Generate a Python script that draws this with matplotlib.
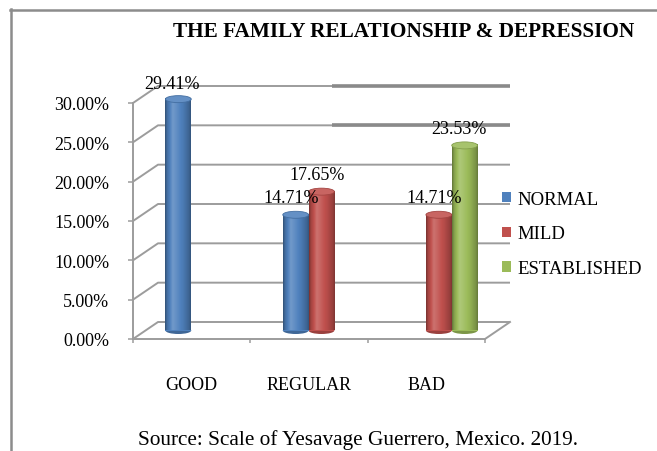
import numpy as np
import matplotlib
matplotlib.use('Agg')
import matplotlib.pyplot as plt
from matplotlib.patches import Ellipse, Patch
from matplotlib.lines import Line2D
from matplotlib.colors import to_rgb

# ---------------- data ----------------
categories = ['GOOD', 'REGULAR', 'BAD']
series_names = ['NORMAL', 'MILD', 'ESTABLISHED']
normal = [29.41, 14.71, 0.0]
mild = [0.0, 17.65, 14.71]
established = [0.0, 0.0, 23.53]
y_ticks = [0, 5, 10, 15, 20, 25, 30]
title = 'THE FAMILY RELATIONSHIP & DEPRESSION'
source = 'Source: Scale of Yesavage Guerrero, Mexico. 2019.'

# ---------------- style ----------------
plt.rcParams['font.family'] = ['Liberation Serif', 'DejaVu Serif']
colors = ['#4F81BD', '#C0504D', '#9BBB59']
grid_c = '#9c9c9c'
FS = 13

W, H = 657, 452
fig = plt.figure(figsize=(W / 100, H / 100), dpi=100)
ax_l, ax_r, ax_t, ax_b = 133, 485, 104, 340
ax = fig.add_axes([ax_l / W, 1 - ax_b / H, (ax_r - ax_l) / W, (ax_b - ax_t) / H])
XMIN, XMAX, YMIN, YMAX = -0.5, 2.5, 0, 30
ax.set_xlim(XMIN, XMAX)
ax.set_ylim(YMIN, YMAX)

# depth of the 3D box in pixels -> data units
DXp, DYp = 25, 17
DX = DXp * (XMAX - XMIN) / (ax_r - ax_l)
DY = DYp * (YMAX - YMIN) / (ax_b - ax_t)
ELL = 7 * (YMAX - YMIN) / (ax_b - ax_t)

# back wall gridlines + slanted connectors
for v in y_ticks:
    ax.plot([XMIN, XMIN + DX, XMAX + DX], [v, v + DY, v + DY], color=grid_c,
            lw=1.4, clip_on=False, zorder=1, solid_capstyle='butt')
# darker segments visible on the top two back lines
for v in y_ticks[-2:]:
    ax.plot([1.2, XMAX + DX], [v + DY, v + DY], color='#8a8a8a', lw=2.6,
            clip_on=False, zorder=1, solid_capstyle='butt')
# floor right edge
ax.plot([XMAX, XMAX + DX], [0, DY], color=grid_c, lw=1.4, clip_on=False, zorder=1)

# cylinder shading
knots_t = [0, 0.08, 0.3, 0.45, 0.7, 0.92, 1.0]
knots_f = [0.62, 0.85, 1.15, 1.08, 0.95, 0.78, 0.65]
tt = np.linspace(0, 1, 128)
ff = np.interp(tt, knots_t, knots_f)


def gradient(col):
    base = np.array(to_rgb(col))
    rows = []
    for f in ff:
        if f > 1:
            c = base + (1 - base) * (f - 1) * 1.3
        else:
            c = base * f
        rows.append(np.clip(c, 0, 1))
    return np.array(rows)[None, :, :]


BW = 0.22
offsets = [-0.22, 0.0, 0.22]
label_offsets = {
    (0, 0): (-6, 16),
    (0, 1): (-28, 12),
    (1, 1): (-4, 17),
    (1, 2): (-5, 18),
    (2, 2): (-6, 17),
}
all_series = [normal, mild, established]
for s, (vals, col) in enumerate(zip(all_series, colors)):
    grad = gradient(col)
    base = np.array(to_rgb(col))
    for i, v in enumerate(vals):
        if v <= 0:
            continue
        xc = i + offsets[s] + DX / 2
        b = DY / 2
        ax.add_patch(Ellipse((xc, b), BW, ELL, facecolor=base * 0.8,
                             edgecolor='none', zorder=2, clip_on=False))
        ax.bar(xc, v, width=BW, bottom=b, color=col, zorder=2.5, clip_on=False)
        ax.imshow(grad, extent=[xc - BW / 2, xc + BW / 2, b, b + v],
                  aspect='auto', zorder=3, interpolation='bilinear',
                  clip_on=False)
        top = base + (1 - base) * 0.12
        ax.add_patch(Ellipse((xc, b + v), BW, ELL, facecolor=top,
                             edgecolor=base * 0.85, lw=0.6, zorder=4,
                             clip_on=False))
        ox, oy = label_offsets.get((i, s), (-5, 17))
        ax.annotate(f'{v:.2f}%', xy=(xc, b + v), xytext=(ox, oy),
                    textcoords='offset pixels', ha='center', va='center',
                    fontsize=FS, zorder=5, annotation_clip=False)

ax.set_xlim(XMIN, XMAX)
ax.set_ylim(YMIN, YMAX)

# axes styling
for sp in ['top', 'right']:
    ax.spines[sp].set_visible(False)
for sp in ['left', 'bottom']:
    ax.spines[sp].set_color(grid_c)
    ax.spines[sp].set_linewidth(1.4)
    ax.spines[sp].set_zorder(1)
ax.set_yticks(y_ticks)
ax.set_yticklabels([f'{v:.2f}%' for v in y_ticks], fontsize=FS)
ax.tick_params(axis='y', length=3.6, width=1.1, color=grid_c, pad=13.5)
ax.set_xticks(range(len(categories)))
ax.set_xticklabels(categories, fontsize=FS)
ax.set_xticks([-0.5, 0.5, 1.5, 2.5], minor=True)
ax.tick_params(axis='x', which='major', length=0, pad=27)
ax.tick_params(axis='x', which='minor', length=3.2, width=1.1, color=grid_c)
ax.set_facecolor('none')

# legend
handles = [Patch(facecolor=c, edgecolor='none') for c in colors]
fig.legend(handles, series_names, loc='center left',
           bbox_to_anchor=(502 / W, 1 - 235 / H), frameon=False,
           fontsize=13.5, handlelength=0.5, handleheight=0.5,
           handletextpad=0.3, labelspacing=0.95, borderpad=0,
           borderaxespad=0)

# title and source
fig.text(404 / W, 1 - 32 / H, title, ha='center', va='center',
         fontsize=15.3, fontweight='bold')
fig.text(358 / W, 1 - 440 / H, source, ha='center', va='center', fontsize=15.3)

# chart border (top and left visible)
fig.add_artist(Line2D([11 / W, 11 / W], [0, 1 - 10 / H], transform=fig.transFigure,
                      color='#8c8c8c', lw=1.8))
fig.add_artist(Line2D([10 / W, 1], [1 - 11 / H, 1 - 11 / H], transform=fig.transFigure,
                      color='#8c8c8c', lw=1.8))

fig.savefig('out.png', dpi=100)
